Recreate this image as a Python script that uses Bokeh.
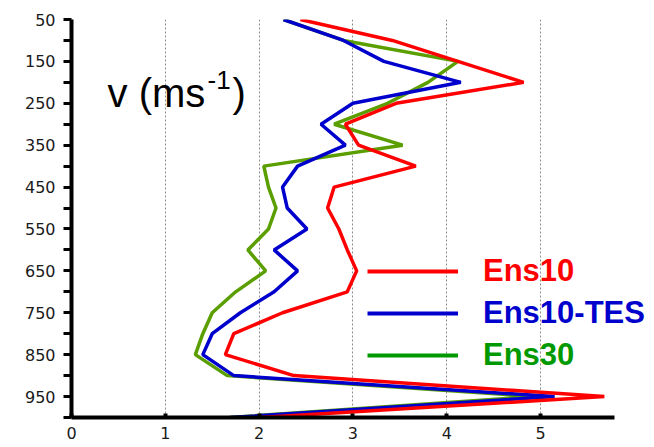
from bokeh.plotting import figure
from bokeh.models import Range1d, FixedTicker, Legend, LegendItem, Label
from bokeh.embed import file_html
from bokeh.resources import INLINE

# pressure levels (hPa)
levels = [50, 100, 150, 200, 250, 300, 350, 400, 450, 500,
          550, 600, 650, 700, 750, 800, 850, 900, 950, 1000]

# v (m s-1) per ensemble
ens10 = [2.44, 3.42, 4.12, 4.82, 3.46, 2.92, 3.06, 3.67, 2.80, 2.73,
         2.85, 2.94, 3.04, 2.94, 2.25, 1.73, 1.64, 2.37, 5.68, 2.02]
ens10_tes = [2.26, 2.90, 3.33, 4.15, 3.00, 2.66, 2.92, 2.41, 2.25, 2.30,
             2.51, 2.16, 2.41, 2.16, 1.80, 1.50, 1.40, 1.73, 5.15, 1.70]
ens30 = [2.26, 2.90, 4.12, 3.80, 3.37, 2.80, 3.53, 2.05, 2.10, 2.18,
         2.10, 1.88, 2.07, 1.75, 1.50, 1.40, 1.32, 1.66, 4.95, 1.68]

series_names = ["Ens10", "Ens10-TES", "Ens30"]

y_major = [50, 150, 250, 350, 450, 550, 650, 750, 850, 950]
y_minor = [100, 200, 300, 400, 500, 600, 700, 800, 900, 1000]
x_ticks = [0, 1, 2, 3, 4, 5]
x_grid = [1, 2, 3, 4, 5]
x_axis_end = 5.79

p = figure(width=654, height=447, output_backend="svg", toolbar_location=None,
           x_range=Range1d(0, 6.215), y_range=Range1d(1000, 50),
           min_border_left=71, min_border_right=0, min_border_top=19,
           min_border_bottom=30)
p.outline_line_color = None
p.background_fill_color = "white"
p.border_fill_color = "white"

p.ygrid.visible = False
p.xgrid.ticker = FixedTicker(ticks=x_grid)
p.xgrid.grid_line_color = "#8c8c8c"
p.xgrid.grid_line_dash = "2 2"
p.xgrid.grid_line_width = 1

xa = p.xaxis[0]
xa.ticker = FixedTicker(ticks=x_ticks)
xa.bounds = (0, x_axis_end)
xa.axis_line_width = 4
xa.axis_line_color = "black"
xa.major_tick_in = 4
xa.major_tick_out = 0
xa.major_tick_line_width = 4
xa.major_tick_line_color = "black"
xa.minor_tick_in = 0
xa.minor_tick_out = 0
xa.major_label_standoff = 9
xa.major_label_text_font = "DejaVu Sans"
xa.major_label_text_font_size = "16px"
xa.major_label_text_color = "#1a1a1a"

ya = p.yaxis[0]
ya.ticker = FixedTicker(ticks=y_major, minor_ticks=y_minor)
ya.axis_line_width = 4
ya.axis_line_color = "black"
ya.major_tick_in = 0
ya.major_tick_out = 8
ya.major_tick_line_width = 3
ya.major_tick_line_color = "black"
ya.minor_tick_in = 0
ya.minor_tick_out = 8
ya.minor_tick_line_width = 3
ya.minor_tick_line_color = "black"
ya.major_label_standoff = 8
ya.major_label_text_font = "DejaVu Sans"
ya.major_label_text_font_size = "16px"
ya.major_label_text_color = "#1a1a1a"

# profiles (green first, red on top)
p.line(ens30, levels, line_color="#5a9e00", line_width=3.5)
p.line(ens10_tes, levels, line_color="#0000cc", line_width=3.5)
p.line(ens10, levels, line_color="#ff0000", line_width=3.5)

# legend proxies (single NaN point: draws nothing in the plot)
nan = float("nan")
leg_colors = ["#ff0000", "#0000cc", "#009900"]
leg_text_colors = ["#ff0000", "#0000cc", "#009900"]
leg_offsets = [126, 84, 42]
for name, col, tcol, off in zip(series_names, leg_colors, leg_text_colors, leg_offsets):
    r = p.line([nan], [nan], line_color=col, line_width=4)
    leg = Legend(items=[LegendItem(label=name, renderers=[r])],
                 location=(296, off), padding=0, margin=0, spacing=0,
                 glyph_width=91, glyph_height=40, label_height=40,
                 label_standoff=25, label_text_font="Liberation Sans",
                 label_text_font_style="bold", label_text_font_size="31px",
                 label_text_color=tcol, border_line_color=None,
                 background_fill_alpha=0)
    p.add_layout(leg)

# quantity label  v (ms^-1)
p.add_layout(Label(x=0.384, y=226, text="v (ms", text_font="Liberation Sans",
                   text_font_size="40px", text_color="black",
                   text_baseline="alphabetic", text_align="left"))
p.add_layout(Label(x=1.45, y=195, text="-1", text_font="Liberation Sans",
                   text_font_size="26px", text_color="black",
                   text_baseline="alphabetic", text_align="left"))
p.add_layout(Label(x=1.716, y=226, text=")", text_font="Liberation Sans",
                   text_font_size="40px", text_color="black",
                   text_baseline="alphabetic", text_align="left"))

open("out.html", "w").write(file_html(p, INLINE))
